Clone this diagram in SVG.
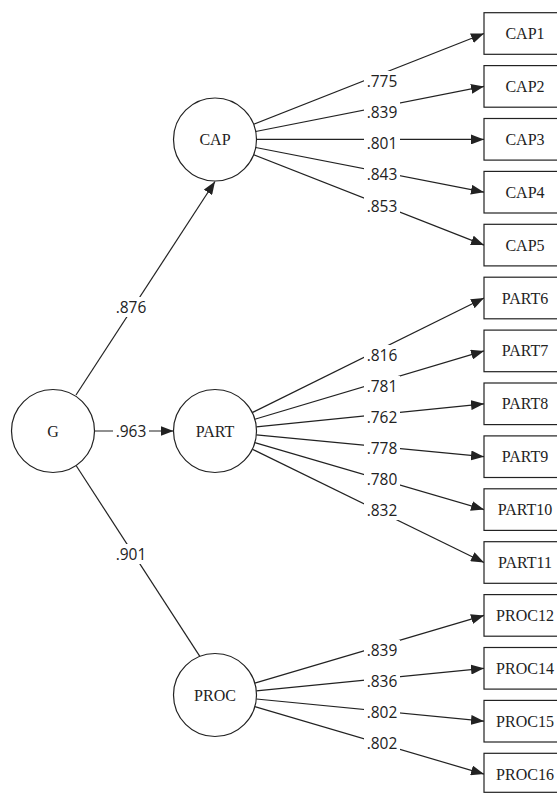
<svg xmlns="http://www.w3.org/2000/svg" width="557" height="793" viewBox="0 0 557 793">
<defs>
<marker id="arr" markerUnits="userSpaceOnUse" markerWidth="13" markerHeight="10" refX="13" refY="5" orient="auto">
<path d="M0,0 L13,5 L0,10 z" fill="#222"/>
</marker>
<style>
.bg{fill:#fff}
.node circle{fill:#fff;stroke:#222;stroke-width:1.2}
.node rect{fill:#fff;stroke:#222;stroke-width:1.2}
.nt{font-family:"Liberation Serif",serif;font-size:16px;fill:#222;text-anchor:middle}
.edges line{stroke:#222;stroke-width:1.2}
.edges .a{marker-end:url(#arr)}
.lb{fill:#fff}
.lt{font-family:"Open Sans",sans-serif;font-size:15.5px;fill:#222;text-anchor:middle}
</style>
</defs>
<rect class="bg" x="0" y="0" width="557" height="793"/>
<g id="connectors" class="edges">
<line class="a" x1="76" y1="395" x2="215" y2="181.5"/>
<line class="a" x1="94.5" y1="431" x2="173.5" y2="431"/>
<line x1="76.4" y1="466" x2="200" y2="656.7"/>
<line class="a" x1="253.6" y1="124.3" x2="484" y2="33.5"/>
<line class="a" x1="255.7" y1="131.5" x2="484" y2="86.4"/>
<line class="a" x1="256.5" y1="139.4" x2="484" y2="139.4"/>
<line class="a" x1="255.7" y1="147.5" x2="484" y2="192.2"/>
<line class="a" x1="253.6" y1="154.7" x2="484" y2="245.1"/>
<line class="a" x1="252.2" y1="412.6" x2="484" y2="298"/>
<line class="a" x1="254.8" y1="419.2" x2="484" y2="350.9"/>
<line class="a" x1="256.3" y1="426.8" x2="484" y2="403.8"/>
<line class="a" x1="256.3" y1="434.9" x2="484" y2="456.7"/>
<line class="a" x1="254.8" y1="442.6" x2="484" y2="509.6"/>
<line class="a" x1="252.3" y1="449.2" x2="484" y2="562.5"/>
<line class="a" x1="254.8" y1="683.2" x2="484" y2="615.4"/>
<line class="a" x1="256.3" y1="690.9" x2="484" y2="668.3"/>
<line class="a" x1="256.3" y1="699" x2="484" y2="721.2"/>
<line class="a" x1="254.8" y1="706.7" x2="484" y2="774.1"/>
<g id="edge-labels">
<rect class="lb" x="113" y="297" width="36" height="20"/><text class="lt" x="131" y="312.5">.876</text>
<rect class="lb" x="113" y="421" width="36" height="20"/><text class="lt" x="131" y="436.5">.963</text>
<rect class="lb" x="113" y="544" width="36" height="20"/><text class="lt" x="131" y="559.5">.901</text>
<rect class="lb" x="364" y="71" width="36" height="20"/><text class="lt" x="382" y="86.5">.775</text>
<rect class="lb" x="364" y="102" width="36" height="20"/><text class="lt" x="382" y="117.5">.839</text>
<rect class="lb" x="364" y="133" width="36" height="20"/><text class="lt" x="382" y="148.5">.801</text>
<rect class="lb" x="364" y="164" width="36" height="20"/><text class="lt" x="382" y="179.5">.843</text>
<rect class="lb" x="364" y="196" width="36" height="20"/><text class="lt" x="382" y="211.5">.853</text>
<rect class="lb" x="364" y="345" width="36" height="20"/><text class="lt" x="382" y="360.5">.816</text>
<rect class="lb" x="364" y="376" width="36" height="20"/><text class="lt" x="382" y="391.5">.781</text>
<rect class="lb" x="364" y="407" width="36" height="20"/><text class="lt" x="382" y="422.5">.762</text>
<rect class="lb" x="364" y="438" width="36" height="20"/><text class="lt" x="382" y="453.5">.778</text>
<rect class="lb" x="364" y="469" width="36" height="20"/><text class="lt" x="382" y="484.5">.780</text>
<rect class="lb" x="364" y="500" width="36" height="20"/><text class="lt" x="382" y="515.5">.832</text>
<rect class="lb" x="364" y="640" width="36" height="20"/><text class="lt" x="382" y="655.5">.839</text>
<rect class="lb" x="364" y="671" width="36" height="20"/><text class="lt" x="382" y="686.5">.836</text>
<rect class="lb" x="364" y="702.5" width="36" height="20"/><text class="lt" x="382" y="718">.802</text>
<rect class="lb" x="364" y="733" width="36" height="20"/><text class="lt" x="382" y="748.5">.802</text>
</g>
</g>
<g id="G" class="node"><circle cx="53" cy="431" r="41.5"/><text class="nt" x="53" y="436.5">G</text></g>
<g id="CAP" class="node"><circle cx="215" cy="139.5" r="41.5"/><text class="nt" x="215" y="145">CAP</text></g>
<g id="PART" class="node"><circle cx="215" cy="431" r="41.5"/><text class="nt" x="215" y="436.5">PART</text></g>
<g id="PROC" class="node"><circle cx="215" cy="695" r="41.5"/><text class="nt" x="215" y="700.5">PROC</text></g>
<g id="CAP1" class="node"><rect x="484" y="12.7" width="84" height="41.6"/><text class="nt" x="525" y="39">CAP1</text></g>
<g id="CAP2" class="node"><rect x="484" y="65.6" width="84" height="41.6"/><text class="nt" x="525" y="91.9">CAP2</text></g>
<g id="CAP3" class="node"><rect x="484" y="118.5" width="84" height="41.6"/><text class="nt" x="525" y="144.8">CAP3</text></g>
<g id="CAP4" class="node"><rect x="484" y="171.4" width="84" height="41.6"/><text class="nt" x="525" y="197.7">CAP4</text></g>
<g id="CAP5" class="node"><rect x="484" y="224.3" width="84" height="41.6"/><text class="nt" x="525" y="250.6">CAP5</text></g>
<g id="PART6" class="node"><rect x="484" y="277.2" width="84" height="41.6"/><text class="nt" x="525" y="303.5">PART6</text></g>
<g id="PART7" class="node"><rect x="484" y="330.1" width="84" height="41.6"/><text class="nt" x="525" y="356.4">PART7</text></g>
<g id="PART8" class="node"><rect x="484" y="383" width="84" height="41.6"/><text class="nt" x="525" y="409.3">PART8</text></g>
<g id="PART9" class="node"><rect x="484" y="435.9" width="84" height="41.6"/><text class="nt" x="525" y="462.2">PART9</text></g>
<g id="PART10" class="node"><rect x="484" y="488.8" width="84" height="41.6"/><text class="nt" x="525" y="515.1">PART10</text></g>
<g id="PART11" class="node"><rect x="484" y="541.7" width="84" height="41.6"/><text class="nt" x="525" y="568">PART11</text></g>
<g id="PROC12" class="node"><rect x="484" y="594.6" width="84" height="41.6"/><text class="nt" x="525" y="620.9">PROC12</text></g>
<g id="PROC14" class="node"><rect x="484" y="647.5" width="84" height="41.6"/><text class="nt" x="525" y="673.8">PROC14</text></g>
<g id="PROC15" class="node"><rect x="484" y="700.4" width="84" height="41.6"/><text class="nt" x="525" y="726.7">PROC15</text></g>
<g id="PROC16" class="node"><rect x="484" y="753.3" width="84" height="39" /><text class="nt" x="525" y="779.6">PROC16</text></g>
</svg>
